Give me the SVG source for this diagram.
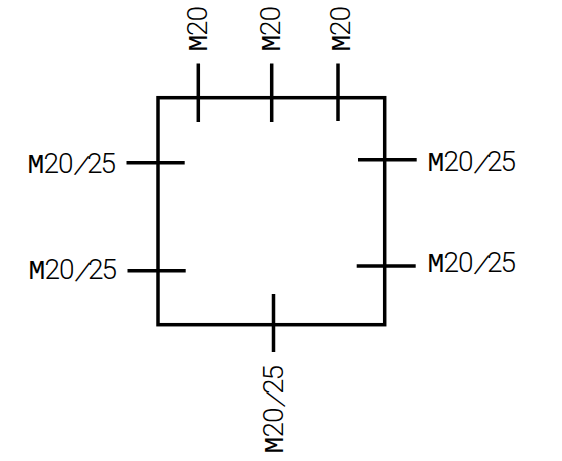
<svg xmlns="http://www.w3.org/2000/svg" width="562" height="461" viewBox="0 0 562 461">
<style>
.l{stroke:#000;stroke-width:3.5;fill:none}
.t{font-family:"Roboto","Liberation Sans",sans-serif;font-weight:300;font-size:28px;fill:#000}
.m{font-family:"Liberation Mono",monospace;font-weight:400}
</style>
<rect width="562" height="461" fill="#fff"/>
<g id="enclosure"><rect class="l" x="158" y="97.7" width="226.7" height="227"/></g>
<g id="connectors">
<path class="l" d="M198.3 63.5V122M271.7 63.5V122M338 63.5V121M126.5 162.7H184.7M127.5 270.7H185.7M358 159.7H416.7M356.7 266H415.7M273.5 294V352"/>
</g>
<g id="top-1"><text class="t" transform="translate(206.5 50.5) rotate(-90)" x="-1 14.5 29"><tspan class="m">M</tspan>20</text></g>
<g id="top-2"><text class="t" transform="translate(280 50.5) rotate(-90)" x="-1 14.5 29"><tspan class="m">M</tspan>20</text></g>
<g id="top-3"><text class="t" transform="translate(350 50.5) rotate(-90)" x="-1 14.5 29"><tspan class="m">M</tspan>20</text></g>
<g id="left-1"><text class="t" transform="translate(29 172.7)" x="-1.5 14.5 29 45 58 71.5" rotate="0 0 0 16 0 0"><tspan class="m">M</tspan>20/25</text></g>
<g id="left-2"><text class="t" transform="translate(30 279.3)" x="-1.5 14.5 29 45 58 71.5" rotate="0 0 0 16 0 0"><tspan class="m">M</tspan>20/25</text></g>
<g id="right-1"><text class="t" transform="translate(429 171.3)" x="-1.5 14.5 29 45 58 71.5" rotate="0 0 0 16 0 0"><tspan class="m">M</tspan>20/25</text></g>
<g id="right-2"><text class="t" transform="translate(429 272)" x="-1.5 14.5 29 45 58 71.5" rotate="0 0 0 16 0 0"><tspan class="m">M</tspan>20/25</text></g>
<g id="bottom"><text class="t" transform="translate(283 452) rotate(-90)" x="-1.5 14.5 29 45 58 71.5" rotate="0 0 0 16 0 0"><tspan class="m">M</tspan>20/25</text></g>
</svg>
